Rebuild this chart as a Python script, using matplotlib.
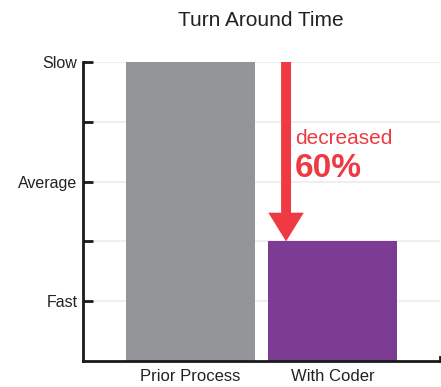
import matplotlib.pyplot as plt
from matplotlib.patches import FancyArrow

plt.rcParams['font.family'] = ['Liberation Sans', 'DejaVu Sans']

categories = ['Prior Process', 'With Coder']
values = [5, 2]
bar_colors = ['#939598', '#7d3c94']
ytick_pos = [1, 2, 3, 4, 5]
ytick_labels = ['Fast', '', 'Average', '', 'Slow']
red = '#ee3a43'

fig = plt.figure(figsize=(4.41, 3.87), dpi=100)
ax = fig.add_axes([83 / 441, 26 / 387, 357 / 441, 299 / 387])

for y in ytick_pos:
    ax.axhline(y, color='#efefef', lw=1.5, zorder=0)

x = list(range(len(categories)))
ax.bar(x, values, width=0.91, color=bar_colors, zorder=2)

ax.set_xlim(-0.757, 1.757)
ax.set_ylim(0, 5)

ax.set_xticks(x)
ax.set_xticklabels(categories, fontsize=12, color='#222222')
ax.tick_params(axis='x', length=0, pad=6)

ax.set_yticks(ytick_pos)
ax.set_yticklabels(ytick_labels, fontsize=11.5, color='#222222')
ax.tick_params(axis='y', direction='in', length=7, width=2, pad=4, color='#1a1a1a')

for s in ['top']:
    ax.spines[s].set_visible(False)
ax.spines['left'].set_linewidth(2)
ax.spines['bottom'].set_linewidth(2)
ax.spines['right'].set_linewidth(2)
ax.spines['left'].set_color('#1a1a1a')
ax.spines['bottom'].set_color('#1a1a1a')
ax.spines['right'].set_color('#1a1a1a')
ax.spines['right'].set_bounds(0, 0.06)

# arrow from Prior level down to With Coder level
ax_x = 0.673
arrow = FancyArrow(ax_x, values[0], 0, values[1] - values[0], width=0.07,
                   head_width=0.25, head_length=0.48, length_includes_head=True,
                   color=red, lw=0, zorder=3)
ax.add_patch(arrow)

ax.text(0.736, 3.63, 'decreased', color=red, fontsize=15, va='baseline', ha='left')
ax.text(0.736, 3.08, '60%', color=red, fontsize=24, fontweight='bold', va='baseline', ha='left')

fig.text(261 / 441, 1 - 20 / 387, 'Turn Around Time', fontsize=15, ha='center', va='center', color='#222222')

fig.savefig('out.png', dpi=100)
